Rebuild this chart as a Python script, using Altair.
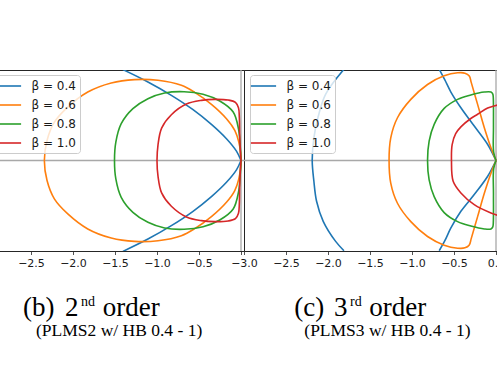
import altair as alt
import pandas as pd

betas = ["β = 0.4", "β = 0.6", "β = 0.8", "β = 1.0"]
colors = ["#1f77b4", "#ff7f0e", "#2ca02c", "#d62728"]

# ---------- panel (b): 2nd order ----------
b04a_x = [-1.406, -1.108, -0.829, -0.571, -0.352, -0.173, -0.054, 0.0]
b04a_y = [1.082, 0.935, 0.776, 0.605, 0.430, 0.259, 0.111, 0.0]
b04b_x = [0.0, -0.054, -0.173, -0.352, -0.571, -0.829, -1.108, -1.406]
b04b_y = [0.0, -0.111, -0.259, -0.430, -0.605, -0.776, -0.935, -1.082]

b06_x = [0.0, -0.006, -0.026, -0.074, -0.173, -0.352, -0.551, -0.710, -0.988, -1.267, -1.545, -1.824, -2.062, -2.222, -2.309, -2.341,
         -2.309, -2.222, -2.062, -1.824, -1.545, -1.267, -0.988, -0.710, -0.551, -0.352, -0.173, -0.074, -0.026, -0.006, 0.0]
b06_y = [0.0, 0.099, 0.219, 0.358, 0.497, 0.668, 0.811, 0.895, 0.955, 0.963, 0.923, 0.815, 0.636, 0.457, 0.239, 0.0,
         -0.239, -0.457, -0.636, -0.815, -0.923, -0.963, -0.955, -0.895, -0.811, -0.668, -0.497, -0.358, -0.219, -0.099, 0.0]

b08_x = [0.0, -0.010, -0.030, -0.093, -0.253, -0.452, -0.678, -0.909, -1.108, -1.287, -1.426, -1.490, -1.506,
         -1.490, -1.426, -1.287, -1.108, -0.909, -0.678, -0.452, -0.253, -0.093, -0.030, -0.010, 0.0]
b08_y = [0.0, 0.179, 0.378, 0.577, 0.708, 0.788, 0.819, 0.804, 0.736, 0.617, 0.438, 0.219, 0.0,
         -0.219, -0.438, -0.617, -0.736, -0.804, -0.819, -0.788, -0.708, -0.577, -0.378, -0.179, 0.0]

b10_x = [0.0, -0.008, -0.016, -0.020, -0.030, -0.066, -0.153, -0.312, -0.471, -0.650, -0.829, -0.945, -0.988, -1.000,
         -0.988, -0.945, -0.829, -0.650, -0.471, -0.312, -0.153, -0.066, -0.030, -0.020, -0.016, -0.008, 0.0]
b10_y = [0.0, 0.119, 0.318, 0.517, 0.628, 0.692, 0.720, 0.728, 0.716, 0.672, 0.545, 0.386, 0.187, 0.0,
         -0.187, -0.386, -0.545, -0.672, -0.716, -0.728, -0.720, -0.692, -0.628, -0.517, -0.318, -0.119, 0.0]

# ---------- panel (c): 3rd order ----------
c04a_x = [-1.810, -2.029, -2.120, -2.168, -2.188, -2.168, -2.136, -2.057, -1.909, -1.810]
c04a_y = [1.086, 0.788, 0.509, 0.270, 0.0, -0.247, -0.485, -0.724, -0.963, -1.074]
c04b_x = [-0.676, -0.609, -0.537, -0.418, -0.259, -0.099, 0.0]
c04b_y = [1.086, 0.959, 0.815, 0.628, 0.410, 0.191, 0.0]
c04c_x = [0.0, -0.099, -0.259, -0.418, -0.537, -0.609, -0.676]
c04c_y = [0.0, -0.187, -0.406, -0.605, -0.803, -0.955, -1.074]

c06_x = [0.0, -0.060, -0.139, -0.219, -0.295, -0.318, -0.370, -0.457, -0.617, -0.815, -1.014, -1.173, -1.253, -1.273,
         -1.253, -1.173, -1.014, -0.815, -0.617, -0.457, -0.370, -0.318, -0.295, -0.219, -0.139, -0.060, 0.0]
c06_y = [0.0, 0.151, 0.390, 0.668, 0.930, 1.005, 1.040, 1.044, 1.008, 0.905, 0.728, 0.509, 0.270, 0.0,
         -0.270, -0.509, -0.728, -0.905, -1.008, -1.044, -1.040, -1.005, -0.930, -0.668, -0.390, -0.151, 0.0]

c08_x = [0.0, -0.028, -0.030, -0.032, -0.038, -0.060, -0.139, -0.300, -0.457, -0.617, -0.736, -0.796, -0.815,
         -0.796, -0.736, -0.617, -0.457, -0.300, -0.139, -0.060, -0.038, -0.032, -0.030, -0.028, 0.0]
c08_y = [0.0, 0.100, 0.400, 0.740, 0.790, 0.815, 0.815, 0.780, 0.728, 0.620, 0.430, 0.231, 0.0,
         -0.231, -0.430, -0.620, -0.728, -0.780, -0.815, -0.815, -0.790, -0.740, -0.400, -0.100, 0.0]

c10a_x = [0.060, 0.0, -0.099, -0.219, -0.300, -0.418, -0.480, -0.522, -0.530, -0.510, -0.418, -0.259, -0.060, 0.060]
c10a_y = [0.676, 0.655, 0.625, 0.550, 0.500, 0.400, 0.320, 0.190, 0.0, -0.247, -0.386, -0.525, -0.624, -0.664]
c10b_x = [0.060, 0.036, 0.022, 0.020, 0.022, 0.036, 0.060]
c10b_y = [0.60, 0.40, 0.15, 0.0, -0.15, -0.40, -0.60]

ticks_b = [-2.5, -2.0, -1.5, -1.0, -0.5, 0.0]
ticks_c = [-3.0, -2.5, -2.0, -1.5, -1.0, -0.5, 0.0]

cap_label = ["(b)", "(c)"]
cap_num = ["2", "3"]
cap_sup = ["nd", "rd"]
cap_tail = ["order", "order"]
cap_sub = ["(PLMS2 w/ HB 0.4 - 1)", "(PLMS3 w/ HB 0.4 - 1)"]

zero_line = [0.0]

XDOM = [-3.0, 0.0357]
YDOM = [-1.0774, 1.0774]
W, H = 255, 181


def frame(curves):
    rows = []
    for beta, seg, xs, ys in curves:
        for i, (x, y) in enumerate(zip(xs, ys)):
            rows.append({"beta": beta, "seg": seg, "i": i, "x": x, "y": y})
    return pd.DataFrame(rows)


df_b = frame([
    (betas[0], "a", b04a_x, b04a_y),
    (betas[0], "b", b04b_x, b04b_y),
    (betas[1], "a", b06_x, b06_y),
    (betas[2], "a", b08_x, b08_y),
    (betas[3], "a", b10_x, b10_y),
])
df_c = frame([
    (betas[0], "a", c04a_x, c04a_y),
    (betas[0], "b", c04b_x, c04b_y),
    (betas[0], "c", c04c_x, c04c_y),
    (betas[1], "a", c06_x, c06_y),
    (betas[2], "a", c08_x, c08_y),
    (betas[3], "a", c10a_x, c10a_y),
    (betas[3], "b", c10b_x, c10b_y),
])


def panel(df, ticks, k, xs, hide_zero_label):
    xsc = alt.Scale(domain=XDOM, nice=False, zero=False)
    ysc = alt.Scale(domain=YDOM, nice=False, zero=False)
    if hide_zero_label:
        xax = alt.Axis(values=ticks, format=".1f", title=None,
                       labelExpr="datum.value == 0 ? '' : datum.label")
    else:
        xax = alt.Axis(values=ticks, format=".1f", title=None)
    zdf = pd.DataFrame({"x": zero_line, "y": zero_line})
    hline = alt.Chart(zdf).mark_rule(color="#a8a8a8", strokeWidth=1.3).encode(
        y=alt.Y("y:Q", scale=ysc, axis=None))
    vline = alt.Chart(zdf).mark_rule(color="#a8a8a8", strokeWidth=1.3).encode(
        x=alt.X("x:Q", scale=xsc, axis=xax))
    lines = alt.Chart(df).mark_line(strokeWidth=1.6, clip=True, interpolate="catmull-rom").encode(
        x=alt.X("x:Q", scale=xsc, axis=xax),
        y=alt.Y("y:Q", scale=ysc, axis=None),
        color=alt.Color("beta:N", scale=alt.Scale(domain=betas, range=colors),
                        legend=alt.Legend(title=None, orient="none", legendX=6, legendY=5,
                                          symbolType="M-2.1,0H2.1", symbolSize=144,
                                          symbolStrokeWidth=1.6, symbolOffset=2.5,
                                          labelOffset=16, rowPadding=6, padding=4,
                                          fillColor="rgba(255,255,255,0.8)",
                                          strokeColor="#cccccc", cornerRadius=3,
                                          labelFont="DejaVu Sans", labelFontSize=12,
                                          labelColor="#1a1a1a")),
        detail="seg:N",
        order="i:Q",
    )
    t = pd.DataFrame({"a": [cap_label[k]], "n": [cap_num[k]], "s": [cap_sup[k]],
                      "o": [cap_tail[k]], "p": [cap_sub[k]]})
    serif = "Liberation Serif"

    def txt(field, x, y, size):
        return alt.Chart(t).mark_text(align="left", baseline="alphabetic", font=serif,
                                      fontSize=size, color="black").encode(
            x=alt.value(x), y=alt.value(y), text=f"{field}:N")

    texts = [txt("a", xs[0], 246, 27), txt("n", xs[1], 246, 27), txt("s", xs[2], 236, 14),
             txt("o", xs[3], 246, 27), txt("p", xs[4], 266, 17.5)]
    return alt.layer(hline, vline, lines, *texts).properties(width=W, height=H)


left = panel(df_b, ticks_b, 0, [34, 76, 92, 113.7, 47], True)
right = panel(df_c, ticks_c, 1, [50.3, 90, 106, 125.3, 60.3], False)

chart = (
    alt.hconcat(left, right, spacing=0, bounds="flush")
    .resolve_scale(color="independent")
    .properties(padding={"left": -13, "top": 68, "right": -9, "bottom": 0})
    .configure_view(stroke="#262626", strokeWidth=1)
    .configure_axis(tickColor="#262626", tickWidth=0.8, tickSize=3.5, labelFont="DejaVu Sans",
                    labelFontSize=11, labelColor="#1a1a1a", domain=False, grid=False,
                    labelFlush=False, labelOverlap=False, labelPadding=3, labelBound=False)
)

chart.save("out.html", embed_options={"renderer": "svg", "actions": False})
